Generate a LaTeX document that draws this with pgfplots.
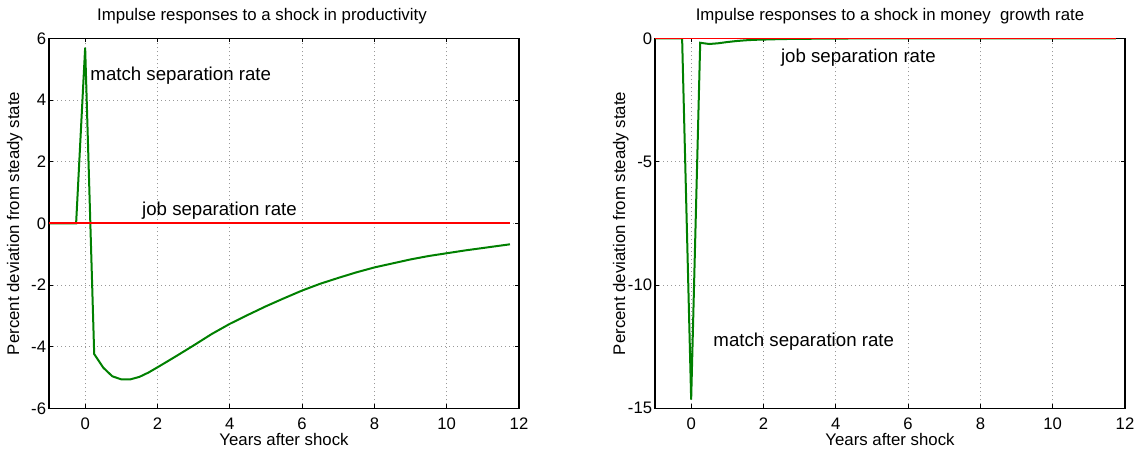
\documentclass[border=0pt]{standalone}
\usepackage{fontspec}
\setmainfont{Liberation Sans}
\usepackage{pgfplots}
\pgfplotsset{compat=1.18}
\definecolor{mgreen}{rgb}{0,0.5,0}
\tikzset{annot/.style={font=\fontsize{14}{16}\selectfont, anchor=base west, inner sep=0pt}}
\begin{document}
\begin{tikzpicture}
\useasboundingbox (0,0) rectangle (853.5pt,341.25pt);
\pgfplotsset{
 myaxis/.style={
  scale only axis, width=352.5pt, height=277.5pt,
  anchor=south west,
  xmin=-1, xmax=12, xtick={0,2,...,12},
  tick pos=both, tick align=inside, major tick length=3pt,
  grid=major, major grid style={gray!80, dash pattern=on 0.75pt off 2.25pt, line width=0.5pt},
  axis line style={line width=0.8pt},
  every tick/.style={black, line width=0.6pt},
  tick label style={font=\fontsize{12.5}{15}\selectfont},
  /pgf/number format/assume math mode=true,
  xticklabel style={anchor=base, yshift=-16pt, inner sep=0pt},
  yticklabel style={anchor=east, inner sep=0pt, xshift=-2pt},
  label style={font=\fontsize{12.6}{15}\selectfont},
  xlabel style={at={(axis description cs:0.5,0)}, anchor=base, yshift=-28pt, inner sep=0pt},
  ylabel style={at={(axis description cs:-0.073,0.5)}, anchor=center, inner sep=0pt},
  title style={font=\fontsize{12.6}{15}\selectfont, anchor=base, yshift=7.5pt, inner sep=0pt},
  xlabel={Years after shock},
  ylabel={Percent deviation from steady state},
 },
}
\begin{axis}[myaxis, at={(36.75pt,35pt)},
  ymin=-6, ymax=6, ytick={-6,-4,...,6},
  title={Impulse responses to a shock in productivity},
  title style={at={(axis description cs:0.453,1)}}]
\addplot[mgreen, line width=1.5pt] coordinates {
(-1,0)(-0.75,0)(-0.5,0)(-0.25,0)(0,5.7)(0.25,-4.24)(0.5,-4.68)(0.75,-4.96)(1,-5.06)(1.25,-5.06)(1.5,-4.98)(1.75,-4.84)(2,-4.67)(2.5,-4.32)(3,-3.96)(3.5,-3.59)(4,-3.26)(4.5,-2.97)(5,-2.69)(5.5,-2.43)(6,-2.18)(6.5,-1.96)(7,-1.77)(7.5,-1.59)(8,-1.43)(8.5,-1.30)(9,-1.17)(9.5,-1.06)(10,-0.97)(10.5,-0.88)(11,-0.80)(11.5,-0.72)(11.75,-0.68)};
\addplot[red, line width=1.5pt] coordinates {(-1,0)(11.75,0)};
\node[annot] at (axis cs:0.14,4.63) {match separation rate};
\node[annot] at (axis cs:1.57,0.25) {job separation rate};
\end{axis}
\begin{axis}[myaxis, at={(491.25pt,35pt)},
  ymin=-15, ymax=0, ytick={-15,-10,-5,0},
  title={Impulse responses to a shock in money\ \ growth rate},
  title style={at={(axis description cs:0.5,1)}}]
\addplot[mgreen, line width=1.5pt] coordinates {
(-1,0)(-0.75,0)(-0.5,0)(-0.25,0)(0,-14.65)(0.25,-0.18)(0.5,-0.23)(0.75,-0.2)(1,-0.15)(1.25,-0.11)(1.5,-0.08)(1.75,-0.06)(2,-0.05)(2.5,-0.03)(3,-0.02)(4,-0.01)(5,0)(11.75,0)};
\addplot[red, line width=1.5pt] coordinates {(-1,0)(11.75,0)};
\node[annot] at (axis cs:2.48,-0.99) {job separation rate};
\node[annot] at (axis cs:0.61,-12.5) {match separation rate};
\end{axis}
\end{tikzpicture}
\end{document}
